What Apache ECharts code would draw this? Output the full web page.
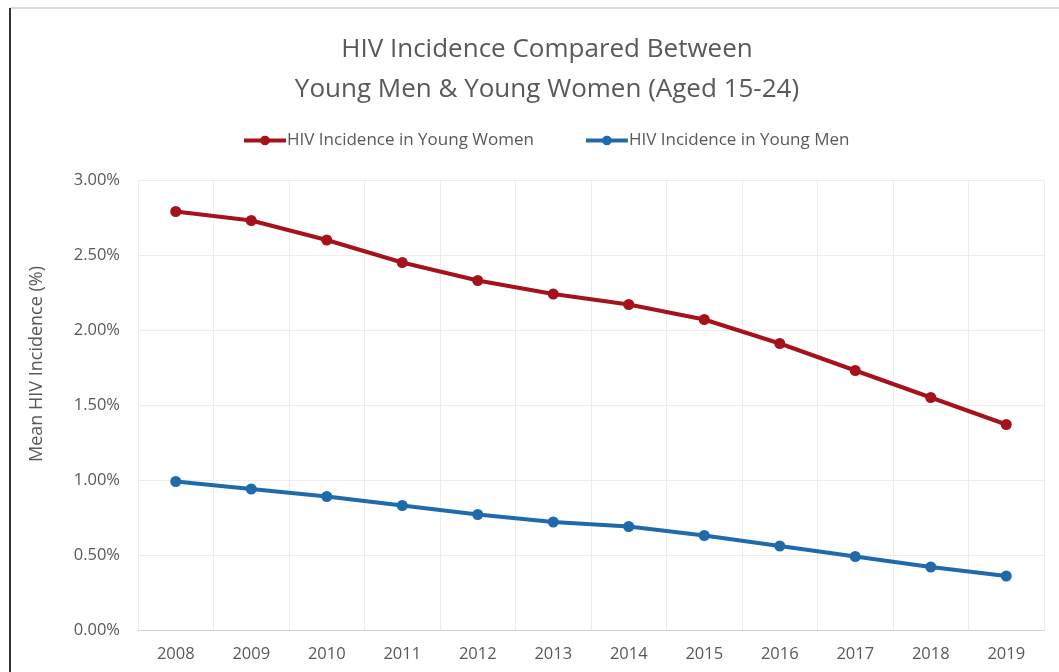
<!DOCTYPE html>
<html>
<head>
<meta charset="utf-8">
<script src="https://cdn.jsdelivr.net/npm/echarts@6/dist/echarts.min.js"></script>
<style>
html,body{margin:0;padding:0;background:#fff;}
#chart{width:1059px;height:672px;}
</style>
</head>
<body>
<div id="chart"></div>
<script>
const years = ['2008','2009','2010','2011','2012','2013','2014','2015','2016','2017','2018','2019'];
const women = [2.79, 2.73, 2.60, 2.45, 2.33, 2.24, 2.17, 2.07, 1.91, 1.73, 1.55, 1.37];
const men = [0.99, 0.94, 0.89, 0.83, 0.77, 0.72, 0.69, 0.63, 0.56, 0.49, 0.42, 0.36];
const titleLines = ['HIV Incidence Compared Between', 'Young Men & Young Women (Aged 15-24)'];
const seriesNames = ['HIV Incidence in Young Women', 'HIV Incidence in Young Men'];
const yAxisName = 'Mean HIV Incidence (%)';

const FONT = '"Open Sans", "Noto Sans", sans-serif';
const TXT = '#595959';
const chart = echarts.init(document.getElementById('chart'));
chart.setOption({
  backgroundColor: '#fff',
  animation: false,
  title: {
    text: titleLines.join('\n'),
    left: 542,
    textAlign: 'center',
    top: 25,
    textStyle: {fontFamily: FONT, fontSize: 26, fontWeight: 'normal', color: TXT, lineHeight: 40}
  },
  legend: {
    top: 127,
    left: 237,
    itemWidth: 42,
    itemHeight: 12,
    itemGap: 50,
    lineStyle: {width: 4},
    textStyle: {fontFamily: FONT, fontSize: 17, color: TXT, padding: [0,0,0,-4]},
    data: seriesNames
  },
  grid: {left: 138, right: 15, top: 180, bottom: 42, containLabel: false},
  xAxis: {
    type: 'category',
    data: years,
    boundaryGap: true,
    axisLine: {lineStyle: {color: '#d0d0d0', width: 1}},
    axisTick: {show: false},
    axisLabel: {fontFamily: FONT, fontSize: 16.5, color: TXT, margin: 16},
    splitLine: {show: true, lineStyle: {color: '#ececec'}}
  },
  yAxis: {
    type: 'value',
    min: 0, max: 3, interval: 0.5,
    axisLine: {show: false},
    axisTick: {show: false},
    axisLabel: {fontFamily: FONT, fontSize: 16.5, color: TXT, margin: 18,
      formatter: v => v.toFixed(2) + '%'},
    splitLine: {lineStyle: {color: '#ececec'}}
  },
  series: [
    {name: seriesNames[0], type: 'line', data: women, symbol: 'circle', symbolSize: 11,
     lineStyle: {color: '#a5121c', width: 4}, itemStyle: {color: '#a5121c'}},
    {name: seriesNames[1], type: 'line', data: men, symbol: 'circle', symbolSize: 11,
     lineStyle: {color: '#1f6aab', width: 4}, itemStyle: {color: '#1f6aab'}}
  ],
  graphic: [
    {type: 'line', shape: {x1: 10, y1: 8, x2: 1059, y2: 8}, style: {stroke: '#cfcfcf', lineWidth: 1.5}},
    {type: 'line', shape: {x1: 10, y1: 8, x2: 10, y2: 672}, style: {stroke: '#333', lineWidth: 2}},
    {type: 'text', x: 37, y: 364, rotation: Math.PI / 2,
     style: {text: yAxisName, fontFamily: FONT, fontSize: 18, fill: TXT, align: 'center', verticalAlign: 'middle'}}
  ]
});
</script>
</body>
</html>
